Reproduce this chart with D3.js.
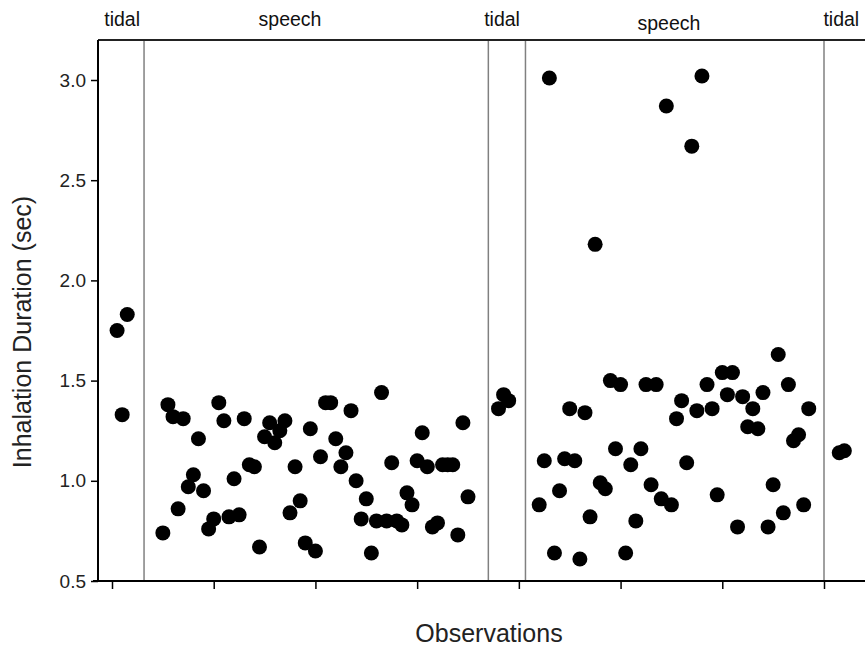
<!DOCTYPE html>
<html><head><meta charset="utf-8">
<script src="https://cdn.jsdelivr.net/npm/d3@7/dist/d3.min.js"></script>
<style>body{margin:0;background:#fff}svg{display:block}text{font-family:"Liberation Sans",Arial,sans-serif}</style>
</head><body><svg id="c" width="865" height="652"></svg>
<script>
// Observation numbers and inhalation durations (sec)
const tidal1Obs = [1, 2, 3];
const tidal1Val = [1.75, 1.33, 1.83];
const speech1Obs = d3.range(10, 71);
const speech1Val = [0.74,1.38,1.32,0.86,1.31,0.97,1.03,1.21,0.95,0.76,0.81,1.39,1.30,0.82,1.01,0.83,1.31,1.08,1.07,0.67,1.22,1.29,1.19,1.25,1.30,0.84,1.07,0.90,0.69,1.26,0.65,1.12,1.39,1.39,1.21,1.07,1.14,1.35,1.00,0.81,0.91,0.64,0.80,1.44,0.80,1.09,0.80,0.78,0.94,0.88,1.10,1.24,1.07,0.77,0.79,1.08,1.08,1.08,0.73,1.29,0.92];
const tidal2Obs = [76, 77, 78];
const tidal2Val = [1.36, 1.43, 1.40];
const speech2Obs = d3.range(84, 138);
const speech2Val = [0.88,1.10,3.01,0.64,0.95,1.11,1.36,1.10,0.61,1.34,0.82,2.18,0.99,0.96,1.50,1.16,1.48,0.64,1.08,0.80,1.16,1.48,0.98,1.48,0.91,2.87,0.88,1.31,1.40,1.09,2.67,1.35,3.02,1.48,1.36,0.93,1.54,1.43,1.54,0.77,1.42,1.27,1.36,1.26,1.44,0.77,0.98,1.63,0.84,1.48,1.20,1.23,0.88,1.36];
const tidal3Obs = [143, 144];
const tidal3Val = [1.14, 1.15];
// phase boundaries (observation number) and phase labels
const boundaries = [6.3, 74, 81.3, 140];
const phaseLabels = ["tidal", "speech", "tidal", "speech", "tidal"];
const phaseLabelObs = [2, 35, 76.7, 109.5, 143.4];
const yTicks = [0.5, 1.0, 1.5, 2.0, 2.5, 3.0];
const xTicks = [0, 20, 40, 60, 80, 100, 120, 140];

const svg = d3.select("#c");
const x = d3.scaleLinear().domain([0, 140]).range([112, 824]);
const y = d3.scaleLinear().domain([0.5, 3.0]).range([581, 80]);
const padL = 98, padT = 40, padB = 581, padR = 870;

const pts = [];
[[tidal1Obs,tidal1Val],[speech1Obs,speech1Val],[tidal2Obs,tidal2Val],[speech2Obs,speech2Val],[tidal3Obs,tidal3Val]]
  .forEach(([o,v]) => o.forEach((ob,i) => pts.push({o:ob, v:v[i]})));

// dividers
svg.append("g").selectAll("line").data(boundaries).join("line")
  .attr("x1", d => x(d)).attr("x2", d => x(d)).attr("y1", padT).attr("y2", padB)
  .attr("stroke", "#808080").attr("stroke-width", 1.5);

// frame top
svg.append("line").attr("x1", padL).attr("x2", padR).attr("y1", padT).attr("y2", padT)
  .attr("stroke", "#222").attr("stroke-width", 2);

// points
svg.append("g").selectAll("circle").data(pts).join("circle")
  .attr("cx", d => x(d.o)).attr("cy", d => y(d.v)).attr("r", 7.5).attr("fill", "#000");

// y axis
const ya = svg.append("g").attr("transform", `translate(${padL},0)`)
  .call(d3.axisLeft(y).tickValues(yTicks).tickFormat(d3.format(".1f")).tickSize(7).tickPadding(5).tickSizeOuter(0));
ya.select(".domain").attr("d", `M0,${padT}V${padB+1}`).attr("stroke", "#000").attr("stroke-width", 2);
ya.selectAll(".tick line").attr("stroke-width", 1.5);
ya.selectAll("text").attr("font-size", 19).attr("fill", "#222").style("font-family", '"Liberation Sans",Arial,sans-serif');

// x axis
const xa = svg.append("g").attr("transform", `translate(0,${padB})`)
  .call(d3.axisBottom(x).tickValues(xTicks).tickFormat("").tickSize(8).tickSizeOuter(0));
xa.select(".domain").attr("d", `M93,0H${padR}`).attr("stroke", "#000").attr("stroke-width", 2);
xa.selectAll(".tick line").attr("stroke-width", 1.5);

// phase labels
svg.append("g").selectAll("text").data(phaseLabels).join("text")
  .attr("x", (d,i) => x(phaseLabelObs[i])).attr("y", (d,i) => i === 3 ? 30 : 26)
  .attr("text-anchor", "middle").attr("font-size", 19.5).attr("fill", "#111").text(d => d);

// axis titles
svg.append("text").attr("transform", "translate(31,332) rotate(-90)").attr("text-anchor", "middle")
  .attr("font-size", 25).attr("fill", "#222").text("Inhalation Duration (sec)");
svg.append("text").attr("x", 489).attr("y", 642).attr("text-anchor", "middle")
  .attr("font-size", 25).attr("fill", "#222").text("Observations");
</script></body></html>
